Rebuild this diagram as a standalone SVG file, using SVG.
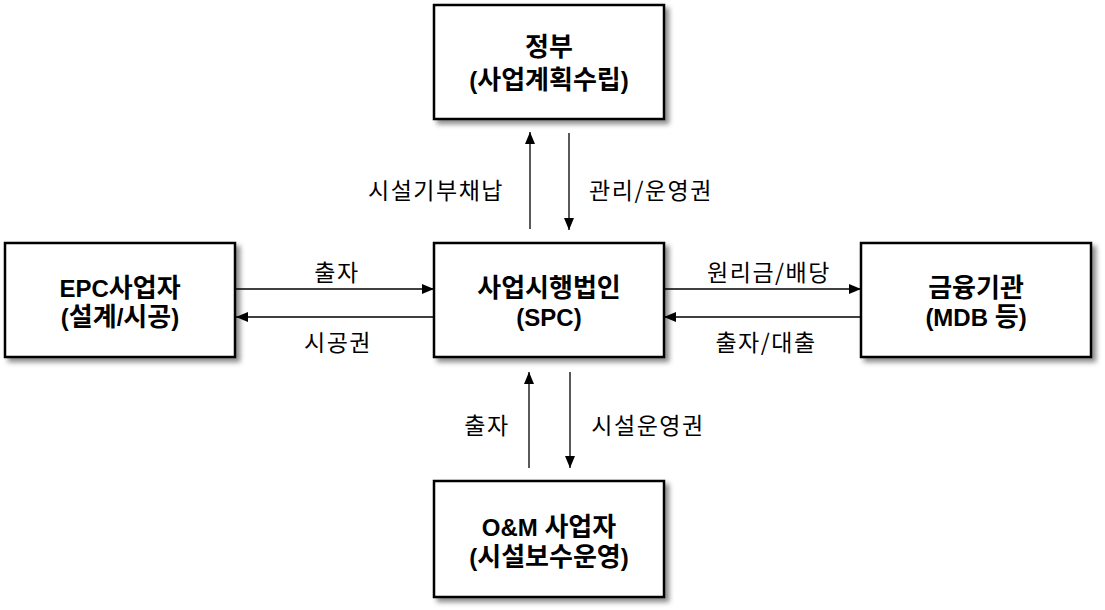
<svg xmlns="http://www.w3.org/2000/svg" width="1105" height="610" viewBox="0 0 1105 610">
<defs>
<filter id="sh" x="-10%" y="-10%" width="125%" height="130%">
<feDropShadow dx="4" dy="4" stdDeviation="2.5" flood-color="#000" flood-opacity="0.45"/>
</filter>
<marker id="ah" viewBox="0 0 12 10" refX="12" refY="5" markerWidth="12" markerHeight="10" markerUnits="userSpaceOnUse" orient="auto">
<path d="M0,0 L12,5 L0,10 Z" fill="#000"/>
</marker>
<style>
.box{fill:#fff;stroke:#000;stroke-width:2.5;filter:url(#sh)}
.t{font-family:"Liberation Sans","Noto Sans CJK KR",sans-serif;font-weight:bold;font-size:24px;text-anchor:middle;dominant-baseline:central;fill:#000}
.k{font-size:26px}
.l{font-family:"Noto Sans CJK KR",sans-serif;font-size:23px;letter-spacing:1.5px;text-anchor:middle;dominant-baseline:central;fill:#000}
.c{stroke:#000;stroke-width:1.3;fill:none;marker-end:url(#ah)}
</style>
</defs>
<rect width="1105" height="610" fill="#fff"/>
<g id="gov">
<rect class="box" x="434" y="5" width="230" height="114"/>
<text class="t" x="549" y="47"><tspan class="k">정부</tspan></text>
<text class="t" x="549" y="80">(<tspan class="k">사업계획수립</tspan>)</text>
</g>
<g id="epc">
<rect class="box" x="5" y="243" width="230" height="114"/>
<text class="t" x="120" y="288">EPC<tspan class="k">사업자</tspan></text>
<text class="t" x="120" y="317">(<tspan class="k">설계</tspan>/<tspan class="k">시공</tspan>)</text>
</g>
<g id="spc">
<rect class="box" x="434" y="243" width="230" height="114"/>
<text class="t" x="549" y="288"><tspan class="k">사업시행법인</tspan></text>
<text class="t" x="549" y="317">(SPC)</text>
</g>
<g id="fin">
<rect class="box" x="861" y="243" width="230" height="114"/>
<text class="t" x="976" y="288"><tspan class="k">금융기관</tspan></text>
<text class="t" x="976" y="317">(MDB <tspan class="k">등</tspan>)</text>
</g>
<g id="om">
<rect class="box" x="434" y="481" width="230" height="116"/>
<text class="t" x="549" y="527">O&amp;M <tspan class="k">사업자</tspan></text>
<text class="t" x="549" y="557">(<tspan class="k">시설보수운영</tspan>)</text>
</g>
<g id="connectors">
<line class="c" x1="530" y1="229" x2="530" y2="132"/>
<line class="c" x1="569" y1="133" x2="569" y2="230"/>
<line class="c" x1="236" y1="289" x2="434" y2="289"/>
<line class="c" x1="434" y1="317" x2="236" y2="317"/>
<line class="c" x1="664" y1="289" x2="861" y2="289"/>
<line class="c" x1="861" y1="317" x2="664" y2="317"/>
<line class="c" x1="529" y1="468" x2="529" y2="372"/>
<line class="c" x1="570" y1="372" x2="570" y2="468"/>
<text class="l" x="436" y="189">시설기부채납</text>
<text class="l" x="651" y="189">관리/운영권</text>
<text class="l" x="337" y="271">출자</text>
<text class="l" x="338" y="341">시공권</text>
<text class="l" x="769" y="271">원리금/배당</text>
<text class="l" x="766" y="341">출자/대출</text>
<text class="l" x="487" y="424">출자</text>
<text class="l" x="648" y="424">시설운영권</text>
</g>
</svg>
